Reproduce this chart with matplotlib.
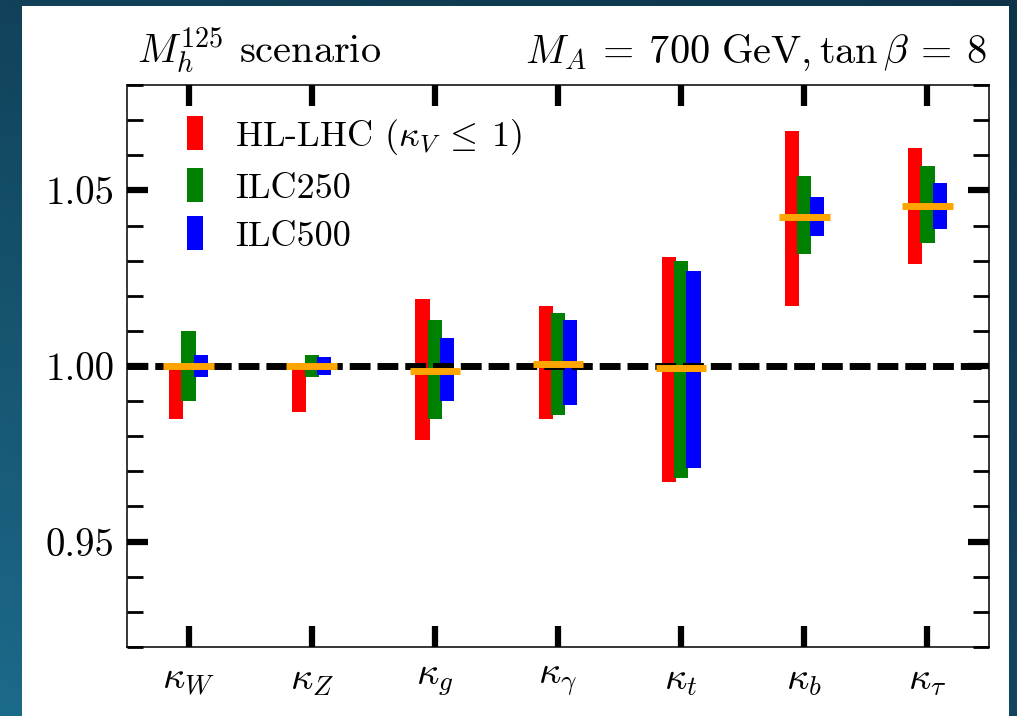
import numpy as np
import matplotlib
matplotlib.use("Agg")
import matplotlib.pyplot as plt
from matplotlib.patches import Rectangle, Patch
from matplotlib.ticker import MultipleLocator, FixedLocator

plt.rcParams["font.family"] = "serif"
plt.rcParams["font.serif"] = ["cmr10"]
plt.rcParams["mathtext.fontset"] = "cm"
plt.rcParams["axes.unicode_minus"] = False
plt.rcParams["axes.formatter.use_mathtext"] = True

# Higgs coupling modifiers
couplings = [r"$\kappa_W$", r"$\kappa_Z$", r"$\kappa_g$", r"$\kappa_\gamma$",
             r"$\kappa_t$", r"$\kappa_b$", r"$\kappa_\tau$"]

# Predicted central values in the scenario
central = [1.000, 1.000, 0.9987, 1.0007, 0.9993, 1.0423, 1.0456]

# Projected precision intervals (lower / upper) per facility
hllhc_lo = [0.985, 0.987, 0.979, 0.985, 0.967, 1.017, 1.029]
hllhc_hi = [1.000, 1.000, 1.019, 1.017, 1.031, 1.067, 1.062]
ilc250_lo = [0.990, 0.997, 0.985, 0.986, 0.968, 1.032, 1.035]
ilc250_hi = [1.010, 1.003, 1.013, 1.015, 1.030, 1.054, 1.057]
ilc500_lo = [0.997, 0.9975, 0.990, 0.989, 0.971, 1.037, 1.039]
ilc500_hi = [1.003, 1.0025, 1.008, 1.013, 1.027, 1.048, 1.052]

series = [
    ("HL-LHC $(\\kappa_V \\:\\leq\\: 1)$", hllhc_lo, hllhc_hi, "#ff0000"),
    ("ILC250", ilc250_lo, ilc250_hi, "#008000"),
    ("ILC500", ilc500_lo, ilc500_hi, "#0000ff"),
]

W, H = 1017, 716
fig = plt.figure(figsize=(W / 100, H / 100), dpi=100)

# Slide-style background: teal gradient with a white panel
bg = fig.add_axes([0, 0, 1, 1], zorder=-10)
yy, xx = np.mgrid[0:1:200j, 0:1:200j]
tl = np.array([17, 66, 90]) / 255
tr = np.array([14, 52, 74]) / 255
bl = np.array([28, 106, 138]) / 255
br = np.array([18, 70, 96]) / 255
grad = ((1 - yy)[..., None] * ((1 - xx)[..., None] * tl + xx[..., None] * tr)
        + yy[..., None] * ((1 - xx)[..., None] * bl + xx[..., None] * br))
bg.imshow(grad, extent=[0, 1, 0, 1], aspect="auto", origin="upper")
bg.add_patch(Rectangle((22 / W, 0), (1009 - 22) / W, (H - 6) / H,
                       transform=bg.transAxes, facecolor="white",
                       edgecolor="none", zorder=2))
bg.set_xlim(0, 1)
bg.set_ylim(0, 1)
bg.axis("off")

ax = fig.add_axes([127 / W, 1 - 647 / H, (989 - 127) / W, (647 - 85) / H])
ax.set_facecolor("white")

x = np.arange(len(couplings))
offsets = [-0.1, 0.0, 0.1]
bar_w = 0.115
for (label, lo, hi, col), off in zip(series, offsets):
    lo = np.array(lo)
    hi = np.array(hi)
    ax.bar(x + off, hi - lo, bottom=lo, width=bar_w, color=col,
           edgecolor="none", zorder=2)

ax.axhline(1.0, color="black", lw=5, linestyle=(0, (3, 1)), zorder=3)
ax.hlines(central, x - 0.205, x + 0.205, color="#ffa500", lw=5, zorder=4)

ax.set_xlim(-0.5, len(couplings) - 0.5)
ax.set_ylim(0.92, 1.08)
ax.xaxis.set_major_locator(FixedLocator(x))
ax.set_xticklabels(couplings)
ax.yaxis.set_major_locator(FixedLocator([0.95, 1.00, 1.05]))
ax.set_yticklabels(["0.95", "1.00", "1.05"])
ax.yaxis.set_minor_locator(MultipleLocator(0.01))

ax.tick_params(which="major", direction="in", length=15, width=4.5,
               top=True, right=True, labelsize=28, pad=9)
ax.tick_params(axis="x", which="major", labelsize=28, pad=11)
ax.tick_params(which="minor", direction="in", length=11.5, width=2,
               left=True, right=True)
for sp in ax.spines.values():
    sp.set_linewidth(1.1)

handles = [Patch(facecolor=c, edgecolor="none") for _, _, _, c in series]
labels = [s[0] for s in series]
ax.legend(handles, labels, loc="upper left", bbox_to_anchor=(0.070, 0.944),
          frameon=False, fontsize=26, handlelength=0.42, handleheight=1.05,
          handletextpad=0.9, labelspacing=0.33, borderpad=0, borderaxespad=0)

fig.text(137 / W, 1 - 63 / H, r"$M_h^{125}$ scenario", fontsize=29,
         ha="left", va="baseline")
fig.text(987 / W, 1 - 63 / H,
         r"$M_A \:=\: 700\ \mathrm{GeV}, \tan\beta \:=\: 8$",
         fontsize=29, ha="right", va="baseline")

fig.savefig("out.png", dpi=100)
